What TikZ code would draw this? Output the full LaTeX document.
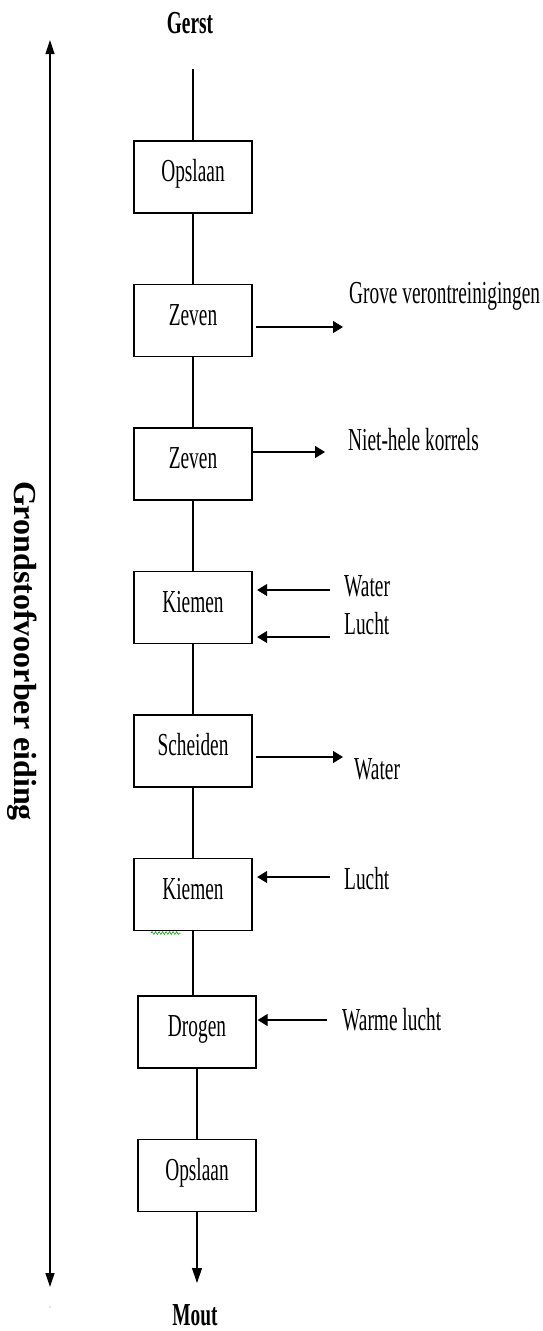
\documentclass[tikz,border=0pt]{standalone}
\usepackage{fontspec}
\setmainfont{Liberation Serif}
\newfontfamily\cond{Liberation Serif}[FakeStretch=0.605]
\usetikzlibrary{arrows.meta,decorations.pathmorphing}
\begin{document}
\begin{tikzpicture}[x=1pt,y=-1pt,
  box/.style={draw, line width=1.3pt, minimum width=118pt, minimum height=72pt, inner sep=0pt,
    text height=21pt, text depth=11.8pt, font=\cond\fontsize{32}{38}\selectfont},
  lbl/.style={anchor=base west, inner sep=0pt, font=\cond\fontsize{32}{38}\selectfont},
  endlbl/.style={anchor=base, inner sep=0pt, font=\cond\bfseries\fontsize{32}{38}\selectfont},
  conn/.style={line width=1.2pt},
  arr/.style={line width=1.2pt, -{Triangle[length=10pt,width=12pt]}},
  bigarr/.style={line width=1.2pt, -{Triangle[length=15pt,width=10pt]}},
  sidearr/.style={line width=1.2pt, {Triangle[length=14pt,width=9pt]}-{Triangle[length=14pt,width=9pt]}}]
\fill[white] (0,0) rectangle (542,1331);
\useasboundingbox (0,0) rectangle (542,1331);

% process boxes
\node[box] (o1) at (193,177) {Opslaan};
\node[box] (z1) at (193,320.5) {Zeven};
\node[box] (z2) at (193,464) {Zeven};
\node[box] (k1) at (193,607.5) {Kiemen};
\node[box] (sc) at (193,751) {Scheiden};
\node[box] (k2) at (193,894.5) {Kiemen};
\node[box] (dr) at (197,1032) {Drogen};
\node[box] (o2) at (197,1175.5) {Opslaan};

% input / output
\node[endlbl] (gerst) at (190,33) {Gerst};
\node[endlbl] (mout) at (195,1325) {Mout};
\coordinate (gs) at (193,69);
\coordinate (mt) at (197,1283);
\draw[conn] (gs) -- (o1.north);
\draw[bigarr] (o2.south) -- (mt);

% main flow
\draw[conn] (o1.south) -- (z1.north);
\draw[conn] (z1.south) -- (z2.north);
\draw[conn] (z2.south) -- (k1.north);
\draw[conn] (k1.south) -- (sc.north);
\draw[conn] (sc.south) -- (k2.north);
\draw[conn] (k2.south) -- (k2.south |- dr.north);
\draw[conn] (dr.south) -- (o2.north);

% side streams
\coordinate (a1) at (343,327);
\coordinate (a2) at (325,452);
\coordinate (a3) at (330,590);
\coordinate (a4) at (330,637);
\coordinate (a5) at (343,757);
\coordinate (a6) at (330,877);
\coordinate (a7) at (327,1020);
\draw[arr, shorten <=3.5pt] (z1.east |- a1) -- (a1);
\draw[arr] (z2.east |- a2) -- (a2);
\draw[arr, shorten >=4.5pt] (a3) -- (k1.east |- a3);
\draw[arr, shorten >=4.5pt] (a4) -- (k1.east |- a4);
\draw[arr, shorten <=3.5pt] (sc.east |- a5) -- (a5);
\draw[arr, shorten >=4.5pt] (a6) -- (k2.east |- a6);
\draw[arr, shorten >=1pt] (a7) -- (dr.east |- a7);

\node[lbl] (l1) at (349,303) {Grove verontreinigingen};
\node[lbl] (l2) at (348,450) {Niet-hele korrels};
\node[lbl] (l3) at (344,596) {Water};
\node[lbl] (l4) at (344,634) {Lucht};
\node[lbl] (l5) at (354,779) {Water};
\node[lbl] (l6) at (344,889) {Lucht};
\node[lbl] (l7) at (342,1030) {Warme lucht};

% side bracket arrow
\coordinate (lt) at (50,40);
\coordinate (lb) at (50,1287);
\draw[sidearr] (lt) -- (lb);
\node[rotate=-90, anchor=base, inner sep=0pt, font=\bfseries\fontsize{32}{38}\selectfont] (side) at (14,651) {Grondstofvoorber eiding};
\fill[gray] (50,1307) circle (0.7);

% green squiggle
\draw[green!60!black, line width=0.5pt, decorate, decoration={snake, segment length=3.5pt, amplitude=1.5pt}] (151,933) -- (181,933);
\end{tikzpicture}
\end{document}
